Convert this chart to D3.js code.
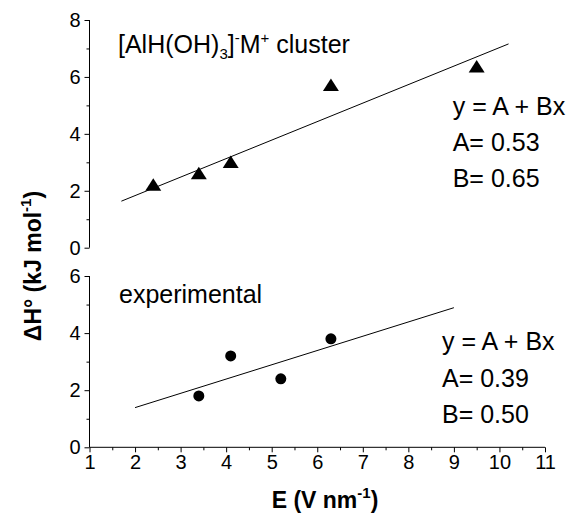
<!DOCTYPE html>
<html><head><meta charset="utf-8">
<script src="https://cdn.jsdelivr.net/npm/d3@7"></script>
<style>body{margin:0;background:#fff}svg{display:block}text{font-family:"Liberation Sans",Arial,sans-serif;fill:#000}</style>
</head><body><svg id="c" width="579" height="516"></svg>
<script>
// data
const clusterX = [2.4, 3.4, 4.1, 6.3, 9.5];
const clusterY = [2.15, 2.55, 2.95, 5.65, 6.3];
const expX = [3.4, 4.1, 5.2, 6.3];
const expY = [1.8, 3.2, 2.4, 3.8];
const clusterFit = {A: 0.53, B: 0.65, x0: 1.7, x1: 10.2};
const expFit = {A: 0.39, B: 0.50, x0: 2, x1: 9};
const xTicks = [1,2,3,4,5,6,7,8,9,10,11];
const topYTicks = [0,2,4,6,8];
const botYTicks = [0,2,4,6];

const svg = d3.select("#c");
const x = d3.scaleLinear().domain([1,11]).range([89.5,545]);
const yTop = d3.scaleLinear().domain([0,8]).range([247.7,20]);
const yBot = d3.scaleLinear().domain([0,6]).range([447.3,276]);

function yAxis(scale, ticks, minors){
  const g = svg.append("g").attr("transform","translate(89.5,0)");
  g.call(d3.axisLeft(scale).tickValues(ticks).tickSize(5).tickPadding(4).tickFormat(d3.format("d")));
  g.append("g").call(d3.axisLeft(scale).tickValues(minors).tickSize(3).tickFormat(""))
    .select(".domain").remove();
  g.selectAll(".domain").attr("stroke","#000").attr("d",`M0,${scale.range()[0]}V${scale.range()[1]}`);
  g.selectAll("text").attr("font-size",20).style("font-family","Liberation Sans, Arial, sans-serif");
  g.selectAll("line").attr("stroke","#000");
}
yAxis(yTop, topYTicks, [1,3,5,7]);
yAxis(yBot, botYTicks, [1,3,5]);

const gx = svg.append("g").attr("transform","translate(0,447.3)");
gx.call(d3.axisBottom(x).tickValues(xTicks).tickSize(5).tickPadding(3).tickFormat(d3.format("d")));
gx.append("g").call(d3.axisBottom(x).tickValues(d3.range(1.5,11,1)).tickSize(3).tickFormat("")).select(".domain").remove();
gx.selectAll(".domain").attr("stroke","#000").attr("d",`M${x.range()[0]},0H${x.range()[1]}`);
gx.selectAll("text").attr("font-size",20).style("font-family","Liberation Sans, Arial, sans-serif");
gx.selectAll("line").attr("stroke","#000");

// fit lines
function fitLine(fit, ys){
  svg.append("line")
    .attr("x1", x(fit.x0)).attr("y1", ys(fit.A + fit.B*fit.x0))
    .attr("x2", x(fit.x1)).attr("y2", ys(fit.A + fit.B*fit.x1))
    .attr("stroke","#000").attr("stroke-width",1);
}
fitLine(clusterFit, yTop);
fitLine(expFit, yBot);

// markers
const tri = d3.symbol().type(d3.symbolTriangle).size(100);
svg.append("g").selectAll("path").data(clusterX).join("path")
  .attr("transform",(d,i)=>`translate(${x(d)},${yTop(clusterY[i])}) scale(1.05,0.95)`)
  .attr("d", tri).attr("fill","#000");
svg.append("g").selectAll("circle").data(expX).join("circle")
  .attr("cx",d=>x(d)).attr("cy",(d,i)=>yBot(expY[i])).attr("r",5.5).attr("fill","#000");

// annotations
const fs = 25;
const t1 = svg.append("text").attr("x",118).attr("y",53).attr("font-size",fs);
t1.append("tspan").text("[AlH(OH)");
t1.append("tspan").text("3").attr("font-size",15).attr("dy",6);
t1.append("tspan").text("]").attr("dy",-6);
t1.append("tspan").text("-").attr("font-size",15).attr("dy",-10);
t1.append("tspan").text("M").attr("dy",10);
t1.append("tspan").text("+").attr("font-size",15).attr("dy",-10);
t1.append("tspan").text(" cluster").attr("dy",10);

svg.append("text").attr("x",119).attr("y",303).attr("font-size",fs).text("experimental");

function eqn(xp, ys, fit){
  const lines = ["y = A + Bx", "A= " + fit.A.toFixed(2), "B= " + fit.B.toFixed(2)];
  lines.forEach((s,i)=>svg.append("text").attr("x",xp).attr("y",ys[i]).attr("font-size",fs).text(s));
}
eqn(452.7, [115,151,187], clusterFit);
eqn(442, [350,386.7,422.7], expFit);

// axis titles
const xt = svg.append("text").attr("x",325).attr("y",508).attr("text-anchor","middle")
  .attr("font-size",23).attr("font-weight","bold");
xt.append("tspan").text("E (V nm");
xt.append("tspan").text("-1").attr("font-size",15).attr("dy",-10);
xt.append("tspan").text(")").attr("dy",10);

const yt = svg.append("text").attr("transform","translate(41,266) rotate(-90)").attr("text-anchor","middle")
  .attr("font-size",23).attr("font-weight","bold");
yt.append("tspan").text("ΔH° (kJ mol");
yt.append("tspan").text("-1").attr("font-size",15).attr("dy",-10);
yt.append("tspan").text(")").attr("dy",10);
</script></body></html>
